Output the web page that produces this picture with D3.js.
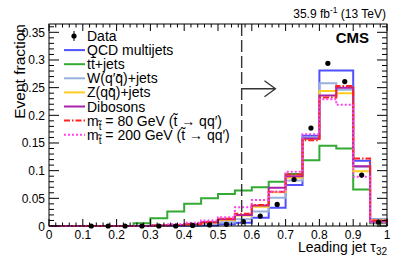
<!DOCTYPE html>
<html>
<head>
<meta charset="utf-8">
<script src="https://cdn.jsdelivr.net/npm/d3@7"></script>
<style>
  body { margin: 0; background: #fff; }
  svg { display: block; font-family: "Liberation Sans", Arial, sans-serif; }
</style>
</head>
<body>
<svg id="chart" width="407" height="258"></svg>
<script>
// bins of the leading jet tau32 (lower edges, width 0.05)
const binLow = [0, 0.05, 0.1, 0.15, 0.2, 0.25, 0.3, 0.35, 0.4, 0.45,
                0.5, 0.55, 0.6, 0.65, 0.7, 0.75, 0.8, 0.85, 0.9, 0.95];
const binWidth = 0.05;

// event fractions per bin
const dataVals = [null, null, 0, 0, 0, 0, 0, 0, 0.001, 0.002,
                  0.003, 0.008, 0.018, 0.039, 0.084, 0.177, 0.294, 0.261, 0.092, 0.007];
const qcd     = [0, 0, 0, 0, 0, 0, 0, 0, 0.0005, 0.001,
                 0.003, 0.006, 0.015, 0.033, 0.074, 0.163, 0.281, 0.281, 0.118, 0.012];
const ttbar   = [0, 0, 0, 0, 0, 0.005, 0.014, 0.026, 0.040, 0.050,
                 0.058, 0.064, 0.070, 0.080, 0.094, 0.119, 0.145, 0.140, 0.066, 0.005];
const wjets   = [0, 0, 0, 0, 0, 0, 0, 0.001, 0.002, 0.004,
                 0.007, 0.012, 0.026, 0.051, 0.082, 0.160, 0.258, 0.246, 0.107, 0.012];
const zjets   = [0, 0, 0, 0, 0, 0, 0.001, 0.002, 0.003, 0.006,
                 0.011, 0.019, 0.035, 0.061, 0.087, 0.157, 0.244, 0.240, 0.099, 0.010];
const diboson = [0, 0, 0, 0, 0, 0, 0.001, 0.002, 0.003, 0.007,
                 0.012, 0.020, 0.037, 0.069, 0.090, 0.158, 0.236, 0.250, 0.108, 0.008];
const stop80  = [0, 0, 0, 0, 0, 0, 0.001, 0.002, 0.003, 0.007,
                 0.013, 0.022, 0.038, 0.062, 0.093, 0.155, 0.232, 0.253, 0.122, 0.010];
const stop200 = [0, 0, 0, 0, 0, 0, 0.001, 0.003, 0.006, 0.010,
                 0.016, 0.034, 0.047, 0.062, 0.098, 0.166, 0.229, 0.219, 0.089, 0.006];

const cutValue = 0.57;
const yTicks = [0, 0.05, 0.1, 0.15, 0.2, 0.25, 0.3, 0.35];
const xTicks = [0, 0.1, 0.2, 0.3, 0.4, 0.5, 0.6, 0.7, 0.8, 0.9, 1];

let svg = d3.select("#chart");
let xScale = d3.scaleLinear().domain([0, 1]).range([49, 387]);
let yScale = d3.scaleLinear().domain([0, 0.365]).range([226, 24]);

// ----- histograms -----
const tilde = "t\u0303";
const samples = [
  { vals: qcd,     color: "#5050ff", dash: null,      label: [["QCD multijets"]] },
  { vals: ttbar,   color: "#33aa33", dash: null,      label: [["tt\u0304+jets"]] },
  { vals: wjets,   color: "#99b0dd", dash: null,      label: [["W(q\u2032q\u0304)+jets"]] },
  { vals: zjets,   color: "#ffcc22", dash: null,      label: [["Z(qq\u0304)+jets"]] },
  { vals: diboson, color: "#aa22aa", dash: null,      label: [["Dibosons"]] },
  { vals: stop80,  color: "#ff2020", dash: "6,2,1.5,2", label: [["m"], [tilde, "sub"], [" = 80 GeV ("], [tilde], [" \u2192 qq\u2032)"]] },
  { vals: stop200, color: "#ff44ee", dash: "2,2",     label: [["m"], [tilde, "sub"], [" = 200 GeV ("], [tilde], [" \u2192 qq\u2032)"]] }
];

let histLine = d3.line()
  .x(d => xScale(d.x))
  .y(d => yScale(d.y))
  .curve(d3.curveStepAfter);

function histPoints(vals) {
  let pts = [{ x: 0, y: 0 }];
  vals.forEach((v, i) => pts.push({ x: binLow[i], y: v }));
  pts.push({ x: 1, y: vals[vals.length - 1] });
  pts.push({ x: 1, y: 0 });
  return pts;
}

svg.append("g").selectAll("path")
  .data(samples)
  .join("path")
  .attr("fill", "none")
  .attr("stroke", d => d.color)
  .attr("stroke-width", 2)
  .attr("stroke-dasharray", d => d.dash)
  .attr("d", d => histLine(histPoints(d.vals)));

// data points at bin centres
svg.append("g").selectAll("circle")
  .data(dataVals.map((v, i) => ({ x: binLow[i] + binWidth / 2, y: v })).filter(d => d.y !== null))
  .join("circle")
  .attr("cx", d => xScale(d.x))
  .attr("cy", d => yScale(d.y))
  .attr("r", 2.6)
  .attr("fill", "#000");

// ----- cut line and arrow -----
svg.append("line")
  .attr("x1", xScale(cutValue)).attr("x2", xScale(cutValue))
  .attr("y1", yScale(0.365)).attr("y2", yScale(0))
  .attr("stroke", "#333").attr("stroke-width", 1.4)
  .attr("stroke-dasharray", "12,4");

let ay = yScale(0.248), ax0 = xScale(cutValue), ax1 = xScale(0.67);
svg.append("path")
  .attr("fill", "none").attr("stroke", "#333").attr("stroke-width", 1.3)
  .attr("d", `M${ax0},${ay}H${ax1}M${ax1 - 11},${ay - 8}L${ax1},${ay}L${ax1 - 11},${ay + 8}`);

// ----- frame and ticks -----
svg.append("rect")
  .attr("x", 49).attr("y", 24).attr("width", 338).attr("height", 202)
  .attr("fill", "none").attr("stroke", "#000").attr("stroke-width", 1);

let ticks = svg.append("g").attr("stroke", "#000").attr("stroke-width", 1);
d3.range(0, 1.0001, 0.02).forEach(t => {
  let major = xTicks.some(m => Math.abs(m - t) < 1e-6);
  let len = major ? 7 : 3.5;
  ticks.append("line").attr("x1", xScale(t)).attr("x2", xScale(t)).attr("y1", 226).attr("y2", 226 - len);
  ticks.append("line").attr("x1", xScale(t)).attr("x2", xScale(t)).attr("y1", 24).attr("y2", 24 + len);
});
d3.range(0, 0.3651, 0.01).forEach(t => {
  let major = yTicks.some(m => Math.abs(m - t) < 1e-6);
  let len = major ? 10 : 5;
  ticks.append("line").attr("y1", yScale(t)).attr("y2", yScale(t)).attr("x1", 49).attr("x2", 49 + len);
  ticks.append("line").attr("y1", yScale(t)).attr("y2", yScale(t)).attr("x1", 387).attr("x2", 387 - len);
});

let fmt = d3.format("~g");
svg.append("g").selectAll("text")
  .data(xTicks).join("text")
  .attr("x", d => xScale(d)).attr("y", 239)
  .attr("text-anchor", "middle").attr("font-size", 12)
  .text(d => fmt(d));
svg.append("g").selectAll("text")
  .data(yTicks).join("text")
  .attr("x", 45).attr("y", d => yScale(d) + 4.5)
  .attr("text-anchor", "end").attr("font-size", 12)
  .text(d => fmt(d));

// axis titles
let xt = svg.append("text").attr("x", 387).attr("y", 252).attr("text-anchor", "end").attr("font-size", 14);
xt.append("tspan").text("Leading jet \u03c4");
xt.append("tspan").attr("font-size", 10).attr("dy", 3).text("32");

svg.append("text")
  .attr("transform", "translate(25,24) rotate(-90)")
  .attr("text-anchor", "end").attr("font-size", 15.5)
  .text("Event fraction");

// header texts
let lumi = svg.append("text").attr("x", 386).attr("y", 18).attr("text-anchor", "end").attr("font-size", 12);
lumi.append("tspan").text("35.9 fb");
lumi.append("tspan").attr("font-size", 8.5).attr("dy", -5).text("-1");
lumi.append("tspan").attr("dy", 5).text(" (13 TeV)");

svg.append("text").attr("x", 369).attr("y", 43).attr("text-anchor", "end")
  .attr("font-size", 15).attr("font-weight", "bold").text("CMS");

// ----- legend -----
let legend = svg.append("g");
const rowY0 = 36, rowStep = 14.1;
legend.append("circle").attr("cx", 74).attr("cy", rowY0).attr("r", 2.6).attr("fill", "#000");
legend.append("line").attr("x1", 74).attr("x2", 74).attr("y1", rowY0 - 5).attr("y2", rowY0 + 5).attr("stroke", "#000");
legend.append("text").attr("x", 87).attr("y", rowY0 + 5).attr("font-size", 14).text("Data");

samples.forEach((s, i) => {
  let y = rowY0 + rowStep * (i + 1);
  legend.append("line")
    .attr("x1", 64).attr("x2", 85).attr("y1", y).attr("y2", y)
    .attr("stroke", s.color).attr("stroke-width", 2)
    .attr("stroke-dasharray", s.dash);
  let t = legend.append("text").attr("x", 87).attr("y", y + 5).attr("font-size", 14);
  let shifted = false;
  s.label.forEach(part => {
    let sp = t.append("tspan").text(part[0]);
    if (part[1] === "sub") { sp.attr("font-size", 10).attr("dy", 4); shifted = true; }
    else if (shifted) { sp.attr("dy", -4); shifted = false; }
  });
});
</script>
</body>
</html>
